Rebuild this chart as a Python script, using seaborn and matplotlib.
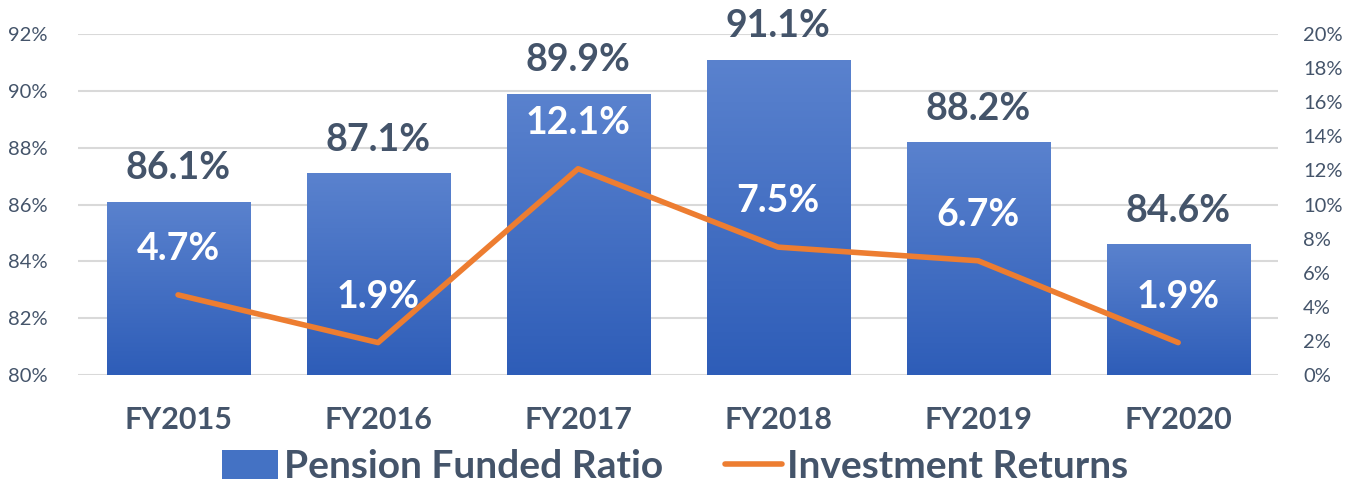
import numpy as np
import pandas as pd
import matplotlib.pyplot as plt
import seaborn as sns
from matplotlib.colors import LinearSegmentedColormap
from matplotlib.patches import Patch
from matplotlib.lines import Line2D

# Pension funded ratio vs investment returns
years = ['FY2015', 'FY2016', 'FY2017', 'FY2018', 'FY2019', 'FY2020']
funded_ratio = [86.1, 87.1, 89.9, 91.1, 88.2, 84.6]
inv_returns = [4.7, 1.9, 12.1, 7.5, 6.7, 1.9]

text_color = '#44546A'
orange = '#ED7D31'

sns.set_style('white')
plt.rcParams['font.family'] = ['Lato', 'DejaVu Sans']

df = pd.DataFrame({'year': years, 'ratio': funded_ratio, 'returns': inv_returns})

fig = plt.figure(figsize=(13.5, 4.86), dpi=100)
ax = fig.add_axes([0.0578, 0.2284, 0.889, 0.7016])

sns.barplot(data=df, x='year', y='ratio', color='#4472C4', width=0.715, ax=ax, zorder=2)
ax.set_ylim(80, 92)
ax.set_xlim(-0.5, len(years) - 0.5)

# gradient fill for bars
cmap = LinearSegmentedColormap.from_list('bluegrad', ['#2E5DB8', '#5A82CE'])
grad = np.linspace(0, 1, 256).reshape(-1, 1)
for p in ax.patches:
    x0, y0 = p.get_x(), p.get_y()
    w, h = p.get_width(), p.get_height()
    p.set_facecolor('none')
    p.set_edgecolor('none')
    im = ax.imshow(grad, cmap=cmap, origin='lower', aspect='auto',
                   extent=[x0, x0 + w, 80, y0 + h], zorder=2)
    im.set_clip_path(p)
    im.set_clip_on(True)
ax.set_xlim(-0.5, len(years) - 0.5)
ax.set_ylim(80, 92)

ax.set_yticks(np.arange(80, 93, 2))
ax.set_yticklabels([f'{v}%' for v in range(80, 93, 2)])
ax.grid(axis='y', color='#D9D9D9', linewidth=1.5, zorder=0)
ax.set_axisbelow(True)
ax.tick_params(axis='y', length=0, pad=22, labelsize=14.5, labelcolor=text_color)
ax.tick_params(axis='x', length=0, pad=22, labelsize=22, labelcolor=text_color)
for lbl in ax.get_xticklabels():
    lbl.set_fontweight('bold')
ax.set_xlabel('')
ax.set_ylabel('')
sns.despine(ax=ax, left=True, bottom=True)

for i, v in enumerate(funded_ratio):
    ax.annotate(f'{v:.1f}%', (i, v), xytext=(0, 24), textcoords='offset points',
                ha='center', va='center', fontsize=27, fontweight='bold', color=text_color)

ax2 = ax.twinx()
sns.lineplot(x=np.arange(len(years)), y=inv_returns, color=orange, linewidth=4,
             ax=ax2, zorder=3)
ax2.set_ylim(0, 20)
ax2.set_yticks(np.arange(0, 21, 2))
ax2.set_yticklabels([f'{v}%' for v in range(0, 21, 2)])
ax2.tick_params(axis='y', length=0, pad=18, labelsize=14.5, labelcolor=text_color)
ax2.set_ylabel('')
for s in ax2.spines.values():
    s.set_visible(False)

for i, v in enumerate(inv_returns):
    ax2.annotate(f'{v:.1f}%', (i, v), xytext=(0, 33), textcoords='offset points',
                 ha='center', va='center', fontsize=27, fontweight='bold', color='white')

handles = [Patch(facecolor='#4472C4', edgecolor='none'),
           Line2D([0], [0], color=orange, linewidth=4)]
leg = fig.legend(handles, ['Pension Funded Ratio', 'Investment Returns'],
                 loc='center', bbox_to_anchor=(0.5, 0.04), ncol=2, frameon=False,
                 fontsize=28, handlelength=1.45, handleheight=0.75, handletextpad=0.15,
                 columnspacing=1.6, borderpad=0)
for t in leg.get_texts():
    t.set_color(text_color)
    t.set_fontweight('bold')

fig.savefig('out.png', dpi=100)
